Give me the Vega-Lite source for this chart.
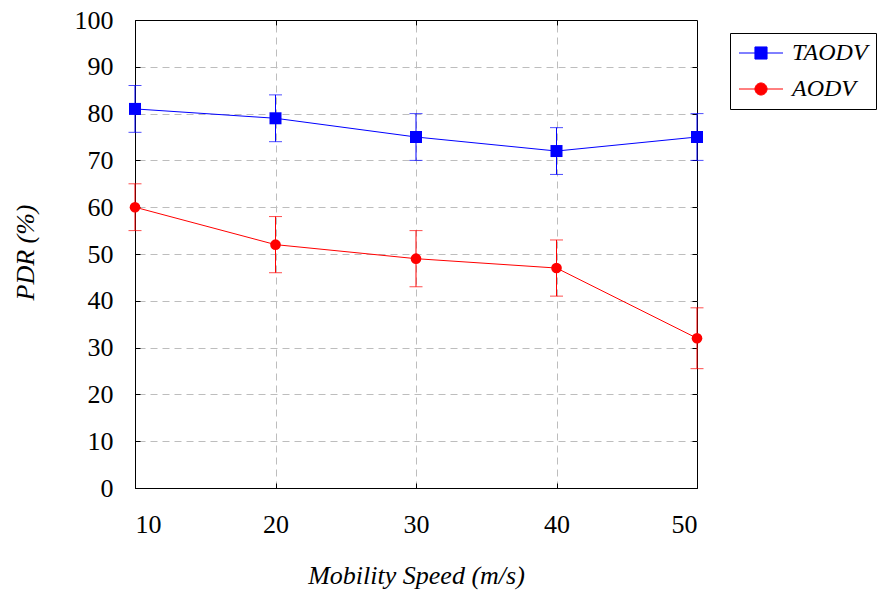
{
  "$schema": "https://vega.github.io/schema/vega-lite/v6.json",
  "width": 562,
  "height": 468,
  "autosize": {"type": "none"},
  "padding": {"left": 135, "top": 20, "right": 181, "bottom": 104},
  "background": "white",
  "config": {
    "view": {"stroke": "#000", "strokeWidth": 1},
    "font": "Liberation Serif",
    "axis": {
      "labelFont": "Liberation Serif",
      "labelFontSize": 26,
      "labelColor": "#000",
      "titleFont": "Liberation Serif",
      "titleFontSize": 26,
      "titleFontStyle": "italic",
      "titleFontWeight": "normal",
      "titleColor": "#000",
      "domainColor": "#000",
      "tickColor": "#000",
      "gridColor": "#bdbdbd",
      "gridDash": [7, 5],
      "gridWidth": 1
    },
    "legend": {
      "orient": "none",
      "legendX": 595,
      "legendY": 13,
      "padding": 8,
      "strokeColor": "#000",
      "fillColor": "#fff",
      "cornerRadius": 0,
      "labelFont": "Liberation Serif",
      "labelFontStyle": "italic",
      "labelFontSize": 24,
      "labelColor": "#000",
      "symbolSize": 484,
      "symbolOffset": 11,
      "labelOffset": 19,
      "rowPadding": 12,
      "symbolOpacity": 1,
      "symbolStrokeWidth": 1
    }
  },
  "data": {
    "values": [
      {"speed": 10, "series": "TAODV", "pdr": 81, "lo": 76, "hi": 86},
      {"speed": 20, "series": "TAODV", "pdr": 79, "lo": 74, "hi": 84},
      {"speed": 30, "series": "TAODV", "pdr": 75, "lo": 70, "hi": 80},
      {"speed": 40, "series": "TAODV", "pdr": 72, "lo": 67, "hi": 77},
      {"speed": 50, "series": "TAODV", "pdr": 75, "lo": 70, "hi": 80},
      {"speed": 10, "series": "AODV", "pdr": 60, "lo": 55, "hi": 65},
      {"speed": 20, "series": "AODV", "pdr": 52, "lo": 46, "hi": 58},
      {"speed": 30, "series": "AODV", "pdr": 49, "lo": 43, "hi": 55},
      {"speed": 40, "series": "AODV", "pdr": 47, "lo": 41, "hi": 53},
      {"speed": 50, "series": "AODV", "pdr": 32, "lo": 25.5, "hi": 38.5}
    ]
  },
  "layer": [
    {
      "mark": {"type": "rule", "strokeWidth": 1},
      "encoding": {
        "x": {
          "field": "speed", "type": "quantitative",
          "scale": {"domain": [10, 50], "nice": false, "zero": false},
          "axis": {"orient": "bottom", "values": [10, 20, 30, 40, 50], "tickSize": -5, "labelPadding": 28, "grid": false,
                   "title": "Mobility Speed (m/s)", "titleX": 281, "titleY": 87, "titleBaseline": "middle", "titleAnchor": "middle"}
        },
        "y": {
          "field": "lo", "type": "quantitative",
          "scale": {"domain": [0, 100], "nice": false},
          "axis": {"orient": "left", "values": [0, 10, 20, 30, 40, 50, 60, 70, 80, 90, 100], "tickSize": -5, "labelPadding": 27, "grid": false,
                   "title": "PDR (%)", "titleX": -110, "titleY": 232, "titleAngle": -90, "titleAlign": "center", "titleBaseline": "middle"}
        },
        "y2": {"field": "hi"},
        "color": {
          "field": "series", "type": "nominal", "title": null,
          "scale": {"domain": ["TAODV", "AODV"], "range": ["#0000ff", "#ff0000"]}
        }
      }
    },
    {
      "mark": {"type": "tick", "orient": "horizontal", "size": 13, "thickness": 1},
      "encoding": {
        "x": {"field": "speed", "type": "quantitative",
              "axis": {"orient": "top", "values": [20, 30, 40], "labels": false, "tickSize": -5, "grid": true, "domain": false, "title": null}},
        "y": {"field": "lo", "type": "quantitative",
              "axis": {"orient": "right", "values": [10, 20, 30, 40, 50, 60, 70, 80, 90], "labels": false, "tickSize": -5, "grid": true, "domain": false, "title": null}},
        "color": {"field": "series", "type": "nominal", "title": null}
      }
    },
    {
      "mark": {"type": "tick", "orient": "horizontal", "size": 13, "thickness": 1},
      "encoding": {
        "x": {"field": "speed", "type": "quantitative", "axis": null},
        "y": {"field": "hi", "type": "quantitative", "axis": null},
        "color": {"field": "series", "type": "nominal", "title": null}
      }
    },
    {
      "mark": {"type": "line", "strokeWidth": 1},
      "encoding": {
        "x": {"field": "speed", "type": "quantitative", "axis": null},
        "y": {"field": "pdr", "type": "quantitative", "axis": null},
        "color": {"field": "series", "type": "nominal", "title": null}
      }
    },
    {
      "transform": [{"filter": "datum.series === 'TAODV'"}],
      "mark": {"type": "point", "filled": true, "opacity": 1, "shape": "square", "size": 144},
      "encoding": {
        "x": {"field": "speed", "type": "quantitative", "axis": null},
        "y": {"field": "pdr", "type": "quantitative", "axis": null},
        "color": {"field": "series", "type": "nominal", "title": null}
      }
    },
    {
      "transform": [{"filter": "datum.series === 'AODV'"}],
      "mark": {"type": "point", "filled": true, "opacity": 1, "shape": "circle", "size": 113},
      "encoding": {
        "x": {"field": "speed", "type": "quantitative", "axis": null},
        "y": {"field": "pdr", "type": "quantitative", "axis": null},
        "color": {"field": "series", "type": "nominal", "title": null}
      }
    },
    {
      "mark": {"type": "point", "filled": true, "opacity": 0},
      "encoding": {
        "x": {"field": "speed", "type": "quantitative", "axis": null},
        "y": {"field": "pdr", "type": "quantitative", "axis": null},
        "fill": {"field": "series", "type": "nominal", "title": null, "scale": {"domain": ["TAODV", "AODV"], "range": ["#0000ff", "#ff0000"]}},
        "stroke": {"field": "series", "type": "nominal", "title": null, "scale": {"domain": ["TAODV", "AODV"], "range": ["#0000ff", "#ff0000"]}},
        "shape": {"field": "series", "type": "nominal", "title": null, "scale": {"domain": ["TAODV", "AODV"], "range": ["M-2,0H2M-0.55,-0.55H0.55V0.55H-0.55Z", "M-2,0H2M0.55,0A0.55,0.55 0 1,1 -0.55,0A0.55,0.55 0 1,1 0.55,0Z"]}}
      }
    }
  ]
}
